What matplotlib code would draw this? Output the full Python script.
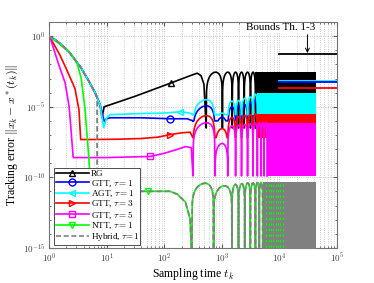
import numpy as np
import matplotlib
matplotlib.use('Agg')
import matplotlib.pyplot as plt
from matplotlib.lines import Line2D
from matplotlib.ticker import FixedLocator, FixedFormatter, NullFormatter, LogLocator

plt.rcParams['font.family'] = ['Liberation Serif', 'DejaVu Serif']
plt.rcParams['mathtext.fontset'] = 'cm'

# valeurs : exposants log10 du temps et de l'erreur
up_tl = [0, 0.017, 0.1, 0.2, 0.365, 0.55, 0.68, 0.8, 0.887]
up_el = [0, -0.07, -0.23, -0.55, -1.2, -2.2, -3.1, -4.0, -4.86]

rg_tl = up_tl + [0.92, 0.957, 1.01, 1.5, 2.12, 2.45, 2.574, 2.64, 2.69, 2.73]
rg_el = up_el + [-5.77, -5.0, -4.93, -4.25, -3.31, -2.8, -2.62, -2.8, -3.4, -6.5]
gtt1_tl = up_tl + [0.92, 0.96, 1.0, 1.06, 1.6, 2.1, 2.4, 2.5]
gtt1_el = up_el + [-5.4, -6.06, -5.85, -5.78, -5.78, -5.85, -5.85, -6.0]
agt_tl = up_tl + [0.95, 1.0, 1.06, 1.6, 2.0, 2.28, 2.45, 2.5]
agt_el = up_el + [-6.48, -5.8, -5.56, -5.48, -5.45, -5.35, -5.45, -5.56]
gtt3_tl = [0, 0.017, 0.19, 0.31, 0.45, 0.52, 0.55, 0.7, 1.2, 1.6, 1.9, 2.1, 2.3, 2.45, 2.5]
gtt3_el = [0, -0.07, -1.34, -2.4, -3.7, -5.2, -7.32, -7.32, -7.3, -7.25, -7.15, -6.97, -6.85, -6.8, -7.2]
gtt5_tl = [0, 0.017, 0.16, 0.28, 0.35, 0.38, 0.42, 1.0, 1.757, 2.0, 2.22, 2.37, 2.47, 2.5]
gtt5_el = [0, -0.07, -1.9, -3.31, -5.0, -6.5, -8.6, -8.6, -8.52, -8.3, -8.03, -7.82, -7.9, -9.9]
ntt_tl = [0, 0.017, 0.15, 0.33, 0.487, 0.56, 0.626, 0.68, 0.73, 2.1, 2.23, 2.37, 2.45, 2.48]
ntt_el = [0, -0.07, -0.45, -1.0, -1.9, -3.0, -5.2, -8.0, -10.99, -10.99, -11.2, -11.76, -12.96, -16]
hyb_tl = up_tl[:8] + [0.835, 0.835, 2.1, 2.23, 2.37, 2.45, 2.48]
hyb_el = up_el[:8] + [-4.35, -10.99, -10.99, -11.2, -11.76, -12.96, -16]

# creux des oscillations (temps) et hauteur des arches
rg_notch = [537, 1025, 1520, 1950, 2450, 3150, 3830]
rg_peak = [-2.55, -2.55, -2.55, -2.55, -2.55, -2.55]
mid_notch = [316, 760, 1270, 1735, 2200, 2800, 3490, 4150]
gtt1_peak = [-4.93, -5.75, -5.0, -4.95, -4.85, -4.7, -4.5]
agt_peak = [-4.5, -5.45, -4.6, -4.55, -4.4, -4.3, -4.1]
gtt3_peak = [-5.63, -6.55, -5.75, -5.7, -5.6, -5.55, -5.5]
gtt5_notch = [316, 760, 1270, 1735, 2200, 2800, 3490, 4150, 4800, 5450, 6100]
gtt5_peak = [-6.13, -7.6, -6.35, -6.3, -6.25, -6.2, -6.15, -6.13, -6.13, -6.13]
ntt_notch = [302, 720, 1500, 1950, 2500, 3130, 3830, 4480, 5130]
ntt_peak = [-10.42, -10.6, -10.5, -10.45, -10.4, -10.4, -10.38, -10.36]
ntt_dense_notch = [5800, 6500, 7200, 7900, 8700, 9500, 10400, 11400]

t_end = 44000
# bornes des théorèmes (de 1e4 à 1e5)
bound_el = [-1.27, -3.17, -3.24, -3.66]


def arcs(notch, peak, floor):
    T, E = [], []
    for i in range(len(peak)):
        a, b = notch[i], notch[i + 1]
        t = np.linspace(a, b, 80)
        s = np.abs(np.sin(np.pi * (t - a) / (b - a)))
        e = peak[i] + np.log10(np.maximum(s, 1e-30))
        T.append(t)
        E.append(np.maximum(e, floor))
    return np.concatenate(T), np.concatenate(E)


fig = plt.figure(figsize=(3.74, 2.83), dpi=100)
ax = fig.add_axes([0.131, 0.124, 0.770, 0.798])
ax.set_xscale('log')
ax.set_yscale('log')

series = [
    # couleur, pre t, pre e, creux, arches, plancher, bande (debut, bas, haut), marqueur
    ('#000000', rg_tl, rg_el, rg_notch, rg_peak, -6.5, (3830, -6.5, -2.55), '^', (2.12, -3.31)),
    ('#0000ff', gtt1_tl, gtt1_el, mid_notch, gtt1_peak, -6.0, (4150, -6.0, -4.2), 'o', (2.1, -5.85)),
    ('#00ffff', agt_tl, agt_el, mid_notch, agt_peak, -5.56, (4150, -5.56, -4.0), '<', (2.28, -5.35)),
    ('#ff0000', gtt3_tl, gtt3_el, mid_notch, gtt3_peak, -7.2, (4150, -7.2, -5.5), '>', (2.1, -6.97)),
    ('#ff00ff', gtt5_tl, gtt5_el, gtt5_notch, gtt5_peak, -9.9, (6100, -9.93, -6.13), 's', (1.757, -8.52)),
    ('#00ff00', ntt_tl, ntt_el, ntt_notch, ntt_peak, -16, (5130, -16, -10.35), 'v', (1.72, -10.99)),
]

z = 2
for c, tl, el, notch, peak, floor, band, mk, mpos in series:
    at, ae = arcs(notch, peak, floor)
    t = np.concatenate([10.0 ** np.array(tl), at])
    e = np.concatenate([np.array(el), ae])
    ax.plot(t, 10.0 ** e, color=c, lw=1.2, zorder=z)
    ax.fill_between([band[0], t_end], 10.0 ** band[1], 10.0 ** band[2], color=c, lw=0, zorder=z)
    ax.plot(10.0 ** mpos[0], 10.0 ** mpos[1], marker=mk, ms=5, mfc='none', mec=c, mew=1.0, zorder=z + 0.5)
    z += 1

# hybride : gris pointillé par dessus NTT
at, ae = arcs(ntt_notch, ntt_peak, -16)
t = np.concatenate([10.0 ** np.array(hyb_tl), at])
e = np.concatenate([np.array(hyb_el), ae])
ax.plot(t, 10.0 ** e, color='0.5', lw=1.3, ls=(0, (3, 1.6)), zorder=z)
ax.fill_between([ntt_notch[-1], t_end], 1e-16, 10.0 ** -10.35, color='0.5', lw=0, zorder=z)
for tn in ntt_dense_notch:
    ax.plot([tn, tn], [10.0 ** -10.5, 1e-16], color='#00ff00', lw=0.8, ls=(0, (2, 3)), zorder=z + 0.2)

# bornes
for be, c in zip(bound_el, ['#000000', '#00ffff', '#0000ff', '#ff0000']):
    ax.plot([1e4, 1e5], [10.0 ** be, 10.0 ** be], color=c, lw=1.3, zorder=z + 1)
ax.text(1.05e4, 10.0 ** 0.6, 'Bounds Th. 1-3', ha='center', va='center', fontsize=8, zorder=z + 2,
        bbox=dict(facecolor='white', edgecolor='none', pad=0.5))
ax.annotate('', xy=(3.07e4, 10.0 ** -1.2), xytext=(3.07e4, 10.0 ** 0.1),
            arrowprops=dict(arrowstyle='->', color='k', lw=0.7, shrinkA=0, shrinkB=0,
                            mutation_scale=7), zorder=z + 2)

ax.set_xlim(1, 1e5)
ax.set_ylim(1e-15, 1e1)
ax.xaxis.set_major_locator(FixedLocator([1e0, 1e1, 1e2, 1e3, 1e4, 1e5]))
ax.xaxis.set_major_formatter(FixedFormatter([r'$\mathsf{10^{%d}}$' % k for k in range(6)]))
ax.xaxis.set_minor_locator(LogLocator(base=10, subs=np.arange(2, 10)))
ax.xaxis.set_minor_formatter(NullFormatter())
ax.yaxis.set_major_locator(FixedLocator([1e-15, 1e-10, 1e-5, 1e0]))
ax.yaxis.set_major_formatter(FixedFormatter([r'$\mathsf{10^{-15}}$', r'$\mathsf{10^{-10}}$',
                                             r'$\mathsf{10^{-5}}$', r'$\mathsf{10^{0}}$']))
ax.yaxis.set_minor_locator(FixedLocator([10.0 ** k for k in range(-15, 2)]))
ax.yaxis.set_minor_formatter(NullFormatter())
ax.tick_params(which='both', direction='in', top=True, right=True, labelsize=6.5, colors='0.35',
               labelcolor='0.25', pad=2.5)
ax.tick_params(which='major', length=3)
ax.tick_params(which='minor', length=1.5)
ax.grid(True, which='major', ls=':', color='0.7', lw=0.6)
ax.xaxis.grid(True, which='minor', ls=':', color='0.75', lw=0.6)
for s in ax.spines.values():
    s.set_color('0.45')
    s.set_linewidth(0.8)

ax.set_xlabel(r'Sampling time $t_k$', fontsize=8.5, labelpad=1)
ax.set_ylabel(r'Tracking error $\|x_k-x^*(t_k)\|$', fontsize=8.5)
ax.yaxis.set_label_coords(-0.1, 0.5)

handles = [
    Line2D([], [], color='#000000', lw=1.2, marker='^', ms=5, mfc='none'),
    Line2D([], [], color='#0000ff', lw=1.2, marker='o', ms=5, mfc='none'),
    Line2D([], [], color='#00ffff', lw=1.2, marker='<', ms=5, mfc='none'),
    Line2D([], [], color='#ff0000', lw=1.2, marker='>', ms=5, mfc='none'),
    Line2D([], [], color='#ff00ff', lw=1.2, marker='s', ms=5, mfc='none'),
    Line2D([], [], color='#00ff00', lw=1.2, marker='v', ms=5, mfc='none'),
    Line2D([], [], color='0.5', lw=1.2, ls=(0, (3, 1.6))),
]
labels = ['RG', r'GTT, $\tau = 1$', r'AGT, $\tau = 1$', r'GTT, $\tau = 3$',
          r'GTT, $\tau = 5$', r'NTT, $\tau = 1$', r'Hybrid, $\tau\!=\!1$']
leg = ax.legend(handles, labels, loc='lower left', bbox_to_anchor=(0.018, 0.015), fontsize=6.6,
                fancybox=False, framealpha=1, edgecolor='0.3', borderpad=0.15,
                labelspacing=0.0, handlelength=3.6, handletextpad=0.25, borderaxespad=0)
leg.get_frame().set_linewidth(0.7)
leg.set_zorder(20)

fig.savefig('out.png', dpi=100)
